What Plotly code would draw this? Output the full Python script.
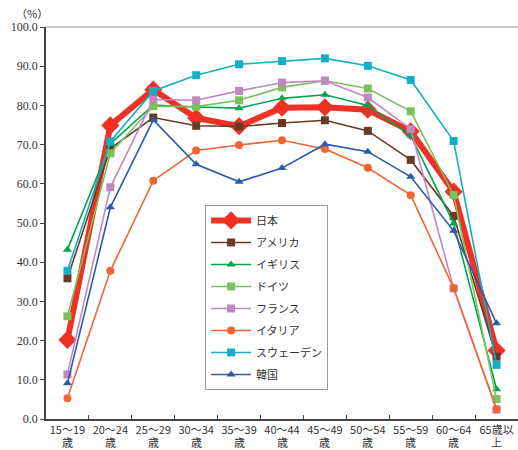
import plotly.graph_objects as go

age_labels = ["15～19", "20～24", "25～29", "30～34", "35～39",
              "40～44", "45～49", "50～54", "55～59", "60～64", "65歳以"]
age_suffix = ["歳", "歳", "歳", "歳", "歳", "歳", "歳", "歳", "歳", "歳", "上"]

japan   = [20.2, 74.9, 84.0, 76.8, 74.7, 79.4, 79.5, 78.9, 73.4, 58.0, 17.5]
usa     = [35.9, 69.0, 76.9, 74.8, 74.6, 75.5, 76.2, 73.5, 66.1, 51.8, 15.9]
uk      = [43.2, 70.2, 80.1, 79.6, 79.3, 81.8, 82.7, 80.0, 72.3, 49.9, 7.6]
germany = [26.2, 67.8, 79.8, 79.7, 81.3, 84.6, 86.3, 84.3, 78.5, 57.1, 5.1]
france  = [11.4, 59.1, 81.5, 81.3, 83.7, 85.8, 86.3, 82.0, 74.0, 33.3, 2.4]
italy   = [5.3, 37.8, 60.8, 68.5, 69.9, 71.1, 68.9, 64.1, 57.1, 33.4, 2.5]
sweden  = [37.8, 70.8, 83.7, 87.7, 90.5, 91.3, 92.0, 90.1, 86.5, 70.9, 13.8]
korea   = [9.1, 54.0, 76.3, 65.0, 60.5, 64.0, 70.1, 68.2, 61.8, 48.0, 24.4]

series = [
    ("日本", japan, "#EE3124", "diamond", 14, 6),
    ("アメリカ", usa, "#6B3A27", "square", 8, 1.6),
    ("イギリス", uk, "#00A550", "triangle-up", 8, 1.6),
    ("ドイツ", germany, "#7AC25C", "square", 8, 1.6),
    ("フランス", france, "#C088C2", "square", 8, 1.6),
    ("イタリア", italy, "#F26532", "circle", 8, 1.6),
    ("スウェーデン", sweden, "#14AFC6", "square", 8, 1.6),
    ("韓国", korea, "#2A5BA8", "triangle-up", 8, 1.6),
]

fig = go.Figure()
for i, (name, vals, color, sym, msize, lw) in enumerate(series):
    fig.add_trace(go.Scatter(
        x=age_labels, y=vals, name=name, mode="lines+markers",
        line=dict(color=color, width=lw),
        marker=dict(symbol=sym, size=msize, color=color),
        legendgroup=str(i), cliponaxis=False,
    ))

annotations = [dict(text="（%）", xref="paper", yref="paper", x=-0.03, y=1.01,
                    xanchor="center", yanchor="bottom", showarrow=False,
                    font=dict(size=11, family="Noto Sans CJK JP", color="#333333"))]
for lab, suf in zip(age_labels, age_suffix):
    annotations.append(dict(text=suf, x=lab, xref="x", y=0, yref="paper",
                            yanchor="middle", yshift=-23, showarrow=False, borderpad=0,
                            font=dict(size=11, family="Noto Sans CJK JP", color="#333333")))

fig.update_layout(
    width=518, height=450,
    margin=dict(l=46, r=0, t=27, b=31),
    plot_bgcolor="white", paper_bgcolor="white",
    font=dict(family="Noto Sans CJK JP", color="#333333"),
    showlegend=True,
    legend=dict(
        x=0.337, y=0.546, xanchor="left", yanchor="top",
        bordercolor="#999999", borderwidth=1, bgcolor="white",
        font=dict(size=11, family="Noto Sans CJK JP", color="#333333"),
        tracegroupgap=3, itemwidth=40,
    ),
    xaxis=dict(
        type="category", range=[-0.5, 10.5], autorange=False,
        showline=True, linecolor="#444444", linewidth=1.5,
        ticks="inside", ticklen=4, tickcolor="#444444", tickson="boundaries",
        tickangle=0,
        tickfont=dict(size=11, family="Noto Sans CJK JP", color="#333333"),
        showgrid=False, zeroline=False, automargin=False,
    ),
    yaxis=dict(
        range=[0, 100], dtick=10, tickformat=".1f", showline=True,
        linecolor="#444444", linewidth=1.5, ticks="outside", ticklen=4,
        tickcolor="#444444", showgrid=False, zeroline=False,
        tickfont=dict(size=12, family="Liberation Serif", color="#333333"),
        automargin=False,
    ),
    shapes=[dict(type="line", xref="paper", yref="paper", x0=0, x1=1, y0=1, y1=1,
                 line=dict(color="#BBBBBB", width=1.5))],
    annotations=annotations,
)

fig.write_html("out.html")
